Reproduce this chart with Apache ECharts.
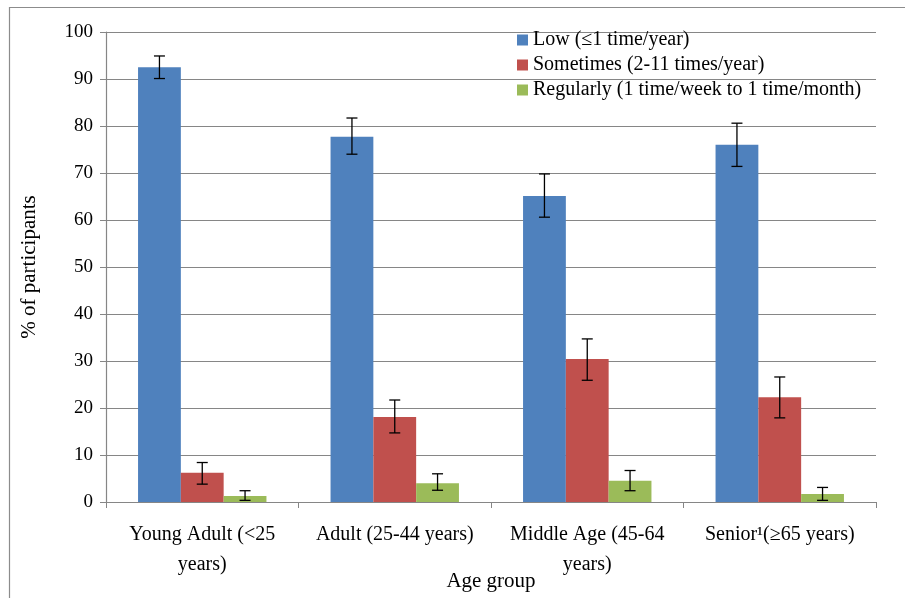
<!DOCTYPE html>
<html>
<head>
<meta charset="utf-8">
<script src="https://cdn.jsdelivr.net/npm/echarts@6/dist/echarts.min.js"></script>
<style>html,body{margin:0;padding:0;background:#fff;}#c{width:905px;height:598px;}</style>
</head>
<body>
<div id="c"></div>
<script>
var categories = ["Young Adult (<25\nyears)", "Adult (25-44 years)", "Middle Age (45-64\nyears)", "Senior\u00b9(\u226565 years)"];
var seriesNames = ["Low (\u22641 time/year)", "Sometimes (2-11 times/year)", "Regularly (1 time/week to 1 time/month)"];
var lowValues = [92.5, 77.7, 65.1, 76.0];
var lowErrLo = [90.1, 74.0, 60.6, 71.4];
var lowErrHi = [94.9, 81.7, 69.8, 80.6];
var sometimesValues = [6.2, 18.1, 30.4, 22.3];
var sometimesErrLo = [3.8, 14.7, 25.9, 17.9];
var sometimesErrHi = [8.4, 21.7, 34.7, 26.6];
var regularlyValues = [1.3, 4.0, 4.5, 1.7];
var regularlyErrLo = [0.35, 2.5, 2.4, 0.35];
var regularlyErrHi = [2.4, 6.0, 6.7, 3.1];
var colors = ["#4F81BD", "#C0504D", "#9BBB59"];

var values = [lowValues, sometimesValues, regularlyValues];
var errLo = [lowErrLo, sometimesErrLo, regularlyErrLo];
var errHi = [lowErrHi, sometimesErrHi, regularlyErrHi];

var chart = echarts.init(document.getElementById('c'));
var font = "'Liberation Serif', 'Times New Roman', serif";
var BAR_W = 42.8;

var series = [];
values.forEach(function (v, i) {
  series.push({
    name: seriesNames[i],
    type: 'bar',
    data: v,
    barWidth: BAR_W,
    barGap: '0%',
    itemStyle: { color: colors[i] },
    z: 2
  });
});
values.forEach(function (v, i) {
  var data = v.map(function (_, k) { return [k, errLo[i][k], errHi[i][k]]; });
  series.push({
    type: 'custom',
    name: 'err' + i,
    z: 5,
    silent: true,
    renderItem: function (params, api) {
      var k = api.value(0);
      var lo = api.coord([k, api.value(1)]);
      var hi = api.coord([k, api.value(2)]);
      var x = lo[0] + (i - 1) * BAR_W;
      var cap = 5.5;
      var st = { stroke: '#000', lineWidth: 1.3 };
      return {
        type: 'group',
        children: [
          { type: 'line', shape: { x1: x, y1: lo[1], x2: x, y2: hi[1] }, style: st },
          { type: 'line', shape: { x1: x - cap, y1: hi[1], x2: x + cap, y2: hi[1] }, style: st },
          { type: 'line', shape: { x1: x - cap, y1: lo[1], x2: x + cap, y2: lo[1] }, style: st }
        ]
      };
    },
    data: data
  });
});

chart.setOption({
  animation: false,
  backgroundColor: '#fff',
  textStyle: { fontFamily: font },
  graphic: [{
    type: 'rect',
    shape: { x: 9.5, y: 7.5, width: 1000, height: 1000 },
    style: { fill: 'none', stroke: '#8c8c8c', lineWidth: 1.2 },
    silent: true
  }],
  legend: {
    data: seriesNames,
    orient: 'vertical',
    left: 512,
    top: 25,
    itemWidth: 11,
    itemHeight: 11,
    itemGap: 5,
    icon: 'rect',
    textStyle: { fontFamily: font, fontSize: 20, color: '#000', padding: [0, 0, 0, 0] },
    itemStyle: { borderWidth: 0 }
  },
  grid: { left: 106, right: 29, top: 32, bottom: 96, containLabel: false, outerBoundsMode: 'none' },
  xAxis: {
    type: 'category',
    data: categories,
    name: 'Age group',
    nameLocation: 'middle',
    nameGap: 69,
    nameMoveOverlap: false,
    nameTextStyle: { fontFamily: font, fontSize: 21, color: '#000' },
    axisLine: { lineStyle: { color: '#868686', width: 1.2 } },
    axisTick: { show: true, length: 6, alignWithLabel: false, lineStyle: { color: '#868686' } },
    axisLabel: { fontFamily: font, fontSize: 20, color: '#000', margin: 18, lineHeight: 30, interval: 0 }
  },
  yAxis: {
    type: 'value',
    min: 0, max: 100, interval: 10,
    name: '% of participants',
    nameLocation: 'middle',
    nameGap: 66,
    nameRotate: 90,
    nameMoveOverlap: false,
    nameTextStyle: { fontFamily: font, fontSize: 21, color: '#000' },
    axisLine: { show: true, lineStyle: { color: '#868686', width: 1.2 } },
    axisTick: { show: true, length: 6, lineStyle: { color: '#868686' } },
    axisLabel: { fontFamily: font, fontSize: 19, color: '#000', margin: 13 },
    splitLine: { lineStyle: { color: '#868686', width: 1.2 } }
  },
  series: series
});
</script>
</body>
</html>
